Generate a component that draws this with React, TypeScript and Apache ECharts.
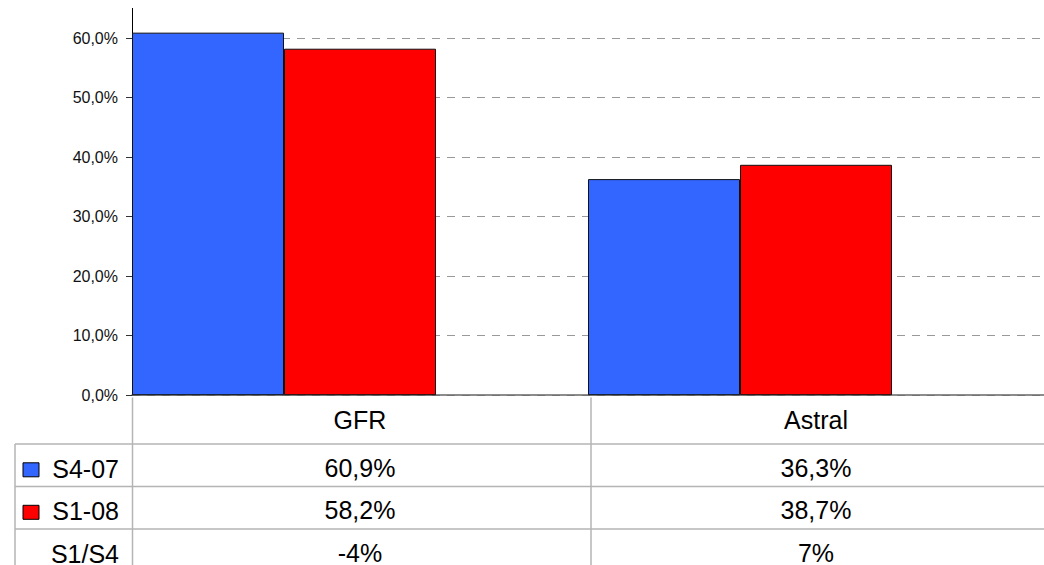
import React, { useEffect, useRef } from 'react';
import * as echarts from 'echarts';

// ---- data ----
const categories = ['GFR', 'Astral'];
const seriesNames = ['S4-07', 'S1-08'];
const s4_07 = [0.609, 0.363];
const s1_08 = [0.582, 0.387];
const ratioLabel = 'S1/S4';
const ratioValues = ['-4%', '7%'];
const seriesColors = ['#3366FF', '#FF0000'];
const yMin = 0;
const yMax = 0.6;
const yInterval = 0.1;

const pct1 = (v: number) => (v * 100).toFixed(1).replace('.', ',') + '%';

// ---- layout ----
const W = 1044;
const H = 565;
const GL = 132;
const GT = 38;
const GW = 917;
const GH = 358.5;
const AXIS_Y = GT + GH; // 396.5
const HEADER_H = 47.5;
const ROW_H = 42.5;
const TABLE_LEFT = 15;
const FONT = '"Liberation Sans", Arial, sans-serif';
const TFS = 25;
const GRID_LINE = '#b4b4b4';

const tableRows = [
  { label: seriesNames[0], color: seriesColors[0], values: s4_07.map(pct1) },
  { label: seriesNames[1], color: seriesColors[1], values: s1_08.map(pct1) },
  { label: ratioLabel, color: null as string | null, values: ratioValues },
];

export default function App() {
  const ref = useRef<HTMLDivElement>(null);
  useEffect(() => {
    if (!ref.current) return;
    const chart = echarts.init(ref.current, null, { renderer: 'svg' });

    const rowCenter = (i: number) => AXIS_Y + HEADER_H + ROW_H * i + 24.8;

    const rowAxes = tableRows.map((row, i) => ({
      type: 'category' as const,
      gridIndex: 0,
      position: 'bottom' as const,
      data: categories,
      axisLine: { show: false },
      axisTick: { show: false },
      splitLine: { show: false },
      axisLabel: {
        interval: 0,
        fontSize: TFS,
        fontFamily: FONT,
        color: '#000',
        margin: rowCenter(i) - TFS / 2 - AXIS_Y,
        formatter: (_v: string, idx: number) => row.values[idx],
      },
    }));

    const catBoundaries = [GL, GL + GW / categories.length];
    const graphic: any[] = [];
    // y axis extension above 60%
    graphic.push({
      type: 'line',
      shape: { x1: GL + 0.5, y1: 8, x2: GL + 0.5, y2: GT },
      style: { stroke: '#000', lineWidth: 1 },
    });
    // table horizontal lines
    for (let i = 0; i < tableRows.length; i++) {
      const y = AXIS_Y + HEADER_H + ROW_H * i;
      graphic.push({
        type: 'line',
        shape: { x1: TABLE_LEFT, y1: y, x2: W, y2: y },
        style: { stroke: GRID_LINE, lineWidth: 1.5 },
      });
    }
    // table vertical lines
    graphic.push({
      type: 'line',
      shape: { x1: TABLE_LEFT, y1: AXIS_Y + HEADER_H, x2: TABLE_LEFT, y2: H },
      style: { stroke: GRID_LINE, lineWidth: 1.5 },
    });
    catBoundaries.forEach((x) => {
      graphic.push({
        type: 'line',
        shape: { x1: x + 0.5, y1: AXIS_Y + 1, x2: x + 0.5, y2: H },
        style: { stroke: GRID_LINE, lineWidth: 1.5 },
      });
    });
    // row labels + legend keys
    tableRows.forEach((row, i) => {
      const cy = rowCenter(i);
      graphic.push({
        type: 'text',
        x: 119,
        y: cy,
        style: {
          text: row.label,
          fontSize: TFS,
          fontFamily: FONT,
          fill: '#000',
          align: 'right',
          verticalAlign: 'middle',
        },
      });
      if (row.color) {
        graphic.push({
          type: 'rect',
          shape: { x: 23, y: cy - 6, width: 16, height: 14 },
          style: { fill: row.color, stroke: '#000', lineWidth: 1 },
        });
      }
    });

    chart.setOption({
      animation: false,
      grid: { left: GL, top: GT, width: GW, height: GH, containLabel: false },
      xAxis: [
        {
          type: 'category',
          gridIndex: 0,
          position: 'bottom',
          data: categories,
          boundaryGap: true,
          axisLine: { show: true, lineStyle: { color: '#666', width: 1.5 } },
          axisTick: { show: false },
          splitLine: { show: false },
          axisLabel: {
            interval: 0,
            fontSize: TFS,
            fontFamily: FONT,
            color: '#000',
            margin: 421.7 - TFS / 2 - AXIS_Y,
          },
        },
        ...rowAxes,
      ],
      yAxis: {
        type: 'value',
        min: yMin,
        max: yMax,
        interval: yInterval,
        axisLine: { show: true, lineStyle: { color: '#000', width: 1 } },
        axisTick: { show: true, length: 6, lineStyle: { color: '#333' } },
        axisLabel: {
          fontSize: 16,
          fontFamily: FONT,
          color: '#111',
          margin: 14,
          formatter: (v: number) => pct1(v),
        },
        splitLine: {
          show: true,
          lineStyle: { type: [8, 7], color: '#999', width: 1 },
        },
      },
      series: [
        {
          name: seriesNames[0],
          type: 'bar',
          xAxisIndex: 0,
          data: s4_07,
          clip: false,
          barGap: '0%',
          barCategoryGap: '0%',
          itemStyle: { color: seriesColors[0], borderColor: '#111', borderWidth: 1 },
        },
        {
          name: seriesNames[1],
          type: 'bar',
          xAxisIndex: 0,
          data: s1_08,
          clip: false,
          barGap: '0%',
          barCategoryGap: '0%',
          itemStyle: { color: seriesColors[1], borderColor: '#111', borderWidth: 1 },
        },
        {
          name: 'spacer',
          type: 'bar',
          xAxisIndex: 0,
          data: [null, null],
          silent: true,
          barGap: '0%',
          barCategoryGap: '0%',
        },
      ],
      graphic,
    });

    return () => chart.dispose();
  }, []);

  return (
    <div
      ref={ref}
      style={{ position: 'absolute', left: 0, top: 0, width: W, height: H, background: '#fff' }}
    />
  );
}
